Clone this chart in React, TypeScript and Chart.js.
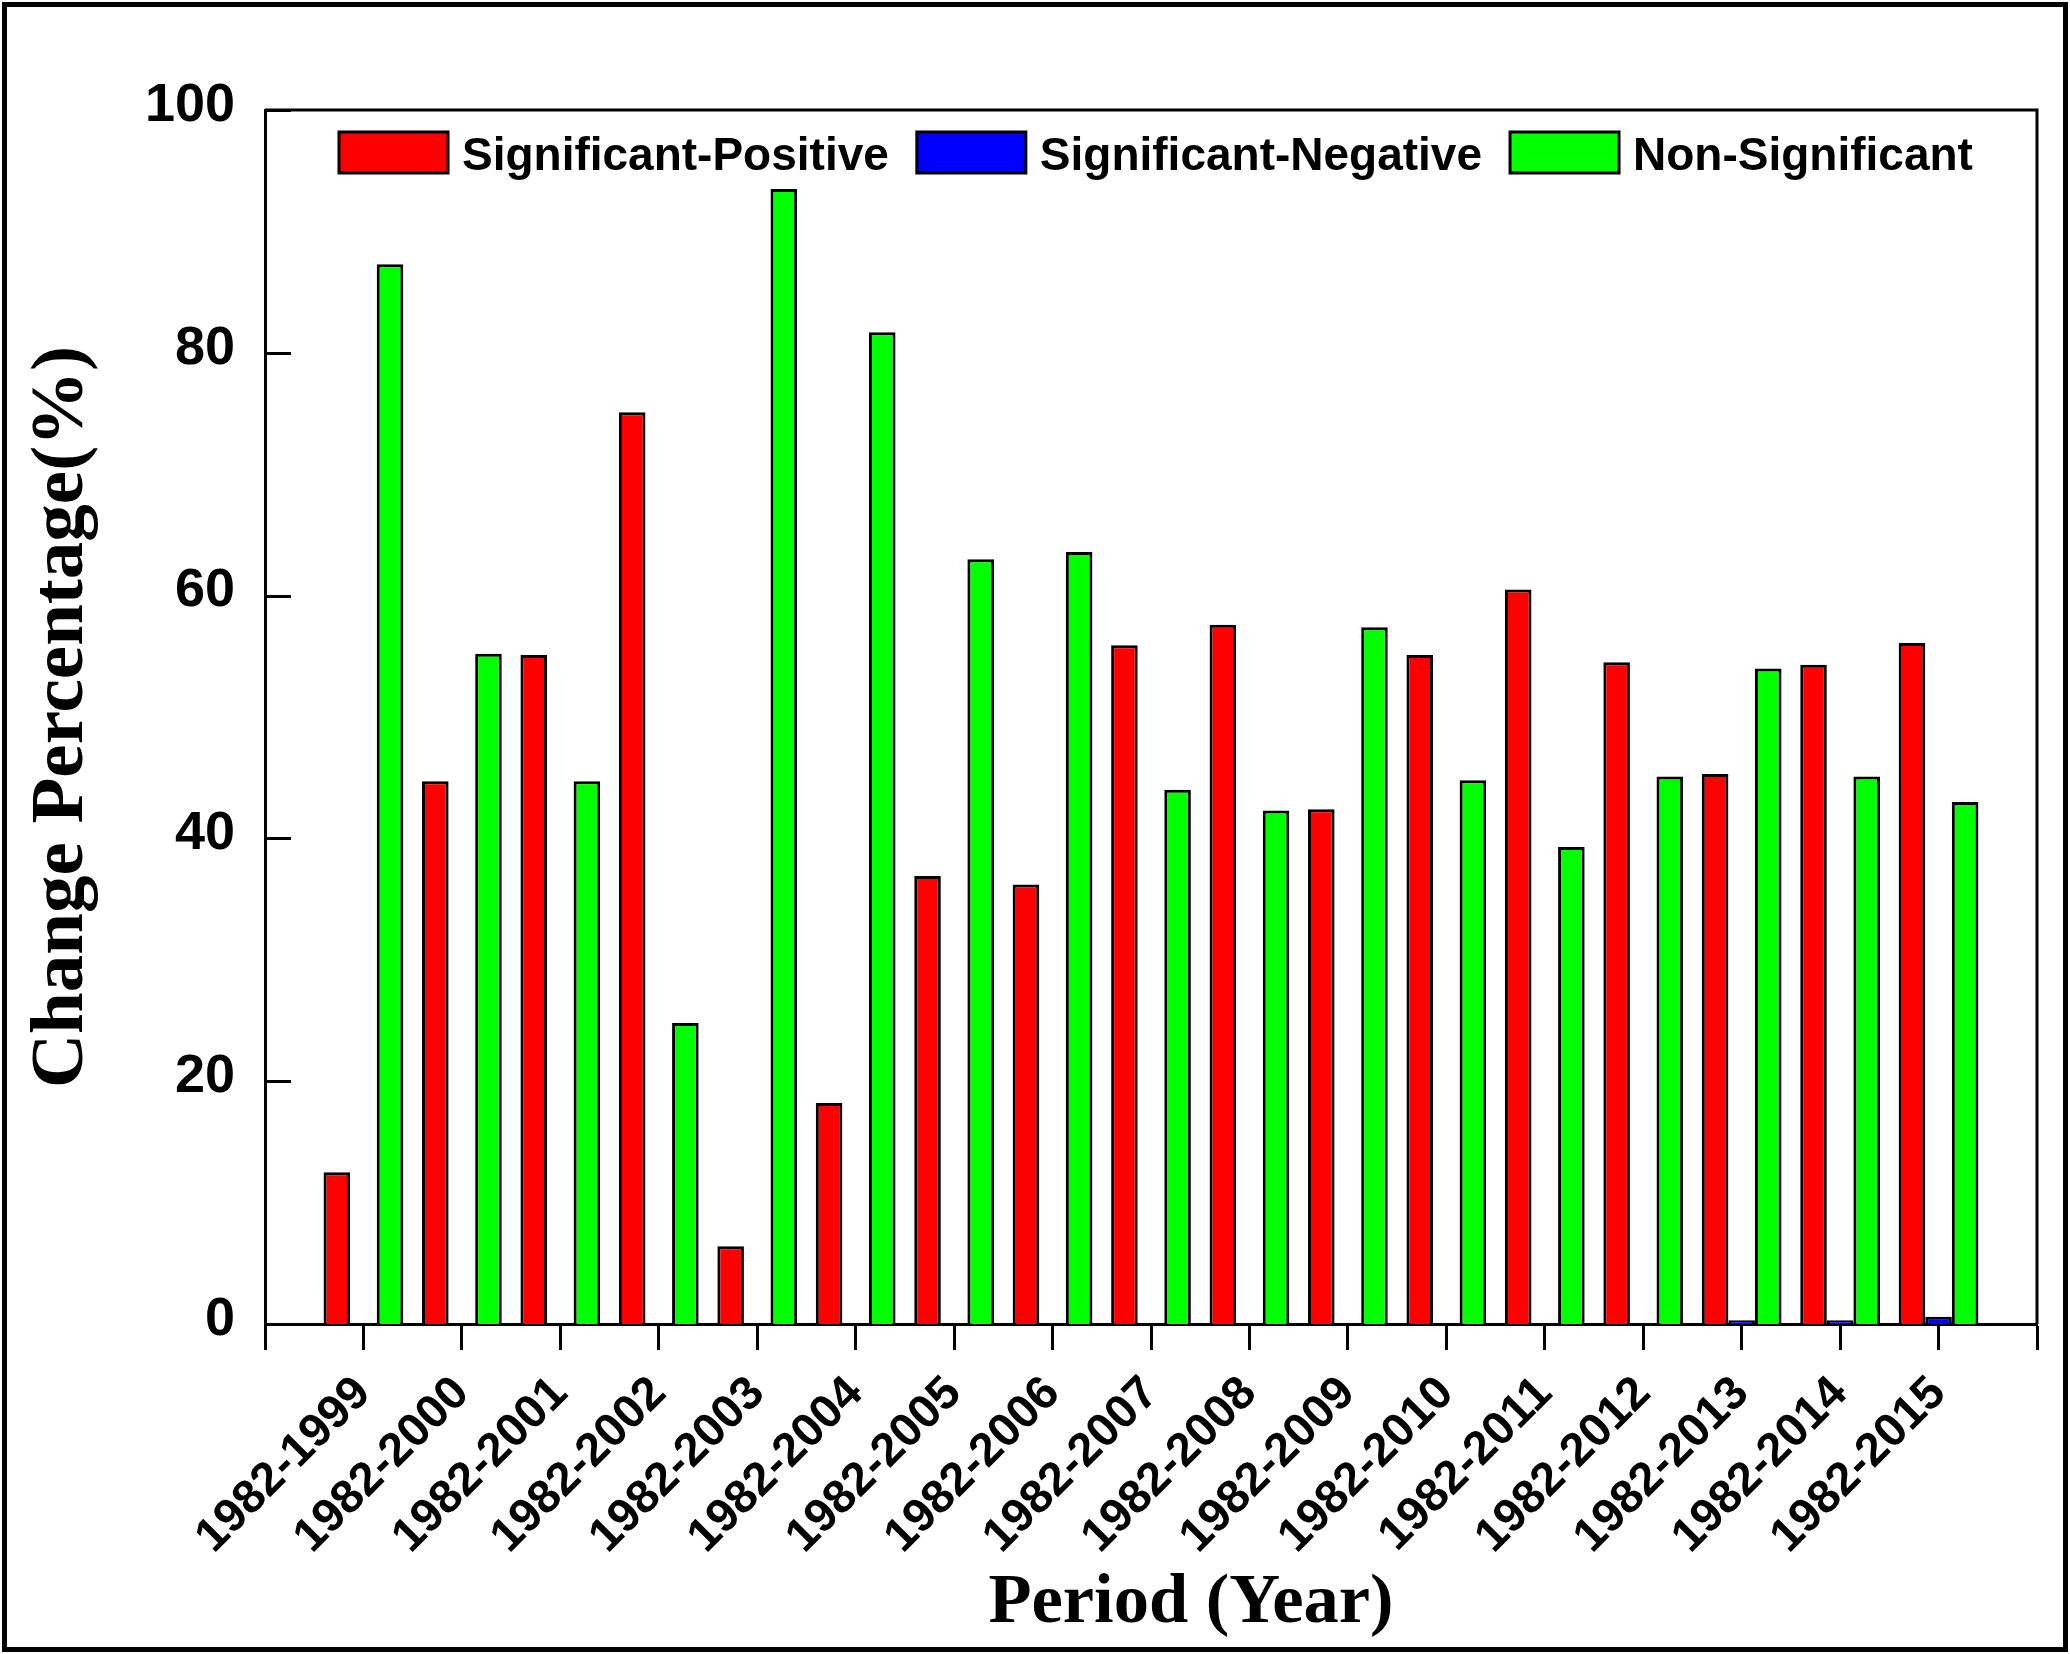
import React, { useEffect, useRef } from "react";
import Chart from "chart.js/auto";

const categories = [
  "1982-1999", "1982-2000", "1982-2001", "1982-2002", "1982-2003", "1982-2004",
  "1982-2005", "1982-2006", "1982-2007", "1982-2008", "1982-2009", "1982-2010",
  "1982-2011", "1982-2012", "1982-2013", "1982-2014", "1982-2015",
];
const sigPositive = [12.5, 44.7, 55.1, 75.1, 6.4, 18.2, 36.9, 36.2, 55.9, 57.6, 42.4, 55.1, 60.5, 54.5, 45.3, 54.3, 56.1];
const sigNegative = [0, 0, 0, 0, 0, 0, 0, 0, 0, 0, 0, 0, 0, 0, 0.3, 0.3, 0.6];
const nonSignificant = [87.3, 55.2, 44.7, 24.8, 93.5, 81.7, 63.0, 63.6, 44.0, 42.3, 57.4, 44.8, 39.3, 45.1, 54.0, 45.1, 43.0];
const yTicks = [0, 20, 40, 60, 80, 100];

const SANS = "'Liberation Sans', Arial, sans-serif";
const SERIF = "'Liberation Serif', 'Times New Roman', serif";

// outer frame, top/right edges of the plot box, inward y ticks, legend and x title
const decorPlugin = {
  id: "decor",
  beforeDraw(chart: any) {
    const { ctx, width, height } = chart;
    ctx.save();
    ctx.fillStyle = "#fff";
    ctx.fillRect(0, 0, width, height);
    ctx.strokeStyle = "#000";
    ctx.lineWidth = 5;
    ctx.strokeRect(4.5, 4.5, width - 9, height - 9);
    ctx.restore();
  },
  afterDatasetsDraw(chart: any) {
    const { ctx, chartArea: a, scales } = chart;
    ctx.save();
    ctx.strokeStyle = "#000";
    ctx.lineWidth = 3;
    ctx.beginPath();
    ctx.moveTo(a.left, a.top);
    ctx.lineTo(a.right, a.top);
    ctx.lineTo(a.right, a.bottom);
    scales.y.ticks.forEach((t: any) => {
      const py = Math.round(scales.y.getPixelForValue(t.value)) + 0.5;
      ctx.moveTo(a.left, py);
      ctx.lineTo(a.left + 26, py);
    });
    ctx.stroke();

    // legend inside the plot
    ctx.font = `bold 46px ${SANS}`;
    ctx.textBaseline = "alphabetic";
    ctx.textAlign = "left";
    let x = a.left + 74;
    const top = a.top + 22;
    chart.data.datasets.forEach((ds: any) => {
      ctx.fillStyle = ds.backgroundColor;
      ctx.fillRect(x, top, 109, 41);
      ctx.lineWidth = 3;
      ctx.strokeRect(x, top, 109, 41);
      ctx.fillStyle = "#000";
      ctx.fillText(ds.label, x + 123, top + 38);
      x += 123 + ctx.measureText(ds.label).width + 28;
    });

    // x axis title
    ctx.font = `bold 70.5px ${SERIF}`;
    ctx.textAlign = "center";
    ctx.fillText("Period (Year)", (a.left + a.right) / 2 + 40, chart.height - 32);
    ctx.restore();
  },
};

const App = () => {
  const chartRef = useRef<HTMLCanvasElement>(null);

  useEffect(() => {
    const ctx = chartRef.current?.getContext("2d");
    // empty slot at each end so the axis runs one category past the bars
    const labels = ["", ...categories, ""];
    const pad = (arr: number[]) => [null, ...arr, null];

    const chart = new Chart(ctx!, {
      type: "bar",
      data: {
        labels,
        datasets: [
          { label: "Significant-Positive", data: pad(sigPositive), backgroundColor: "#ff0000" },
          { label: "Significant-Negative", data: pad(sigNegative), backgroundColor: "#0000ff" },
          { label: "Non-Significant", data: pad(nonSignificant), backgroundColor: "#00ff00" },
        ],
      },
      options: {
        animation: false,
        responsive: false,
        devicePixelRatio: 1,
        layout: { padding: { top: 110, right: 33, left: 0, bottom: 0 } },
        datasets: {
          bar: { categoryPercentage: 0.81, barPercentage: 1, borderColor: "#000", borderWidth: 3 },
        },
        plugins: { legend: { display: false }, tooltip: { enabled: false } },
        scales: {
          x: {
            offset: false,
            grid: {
              display: true,
              offset: false,
              drawOnChartArea: false,
              drawTicks: true,
              tickLength: 26,
              tickWidth: 3,
              tickColor: "#000",
            },
            border: { display: true, color: "#000", width: 3 },
            ticks: {
              autoSkip: false,
              minRotation: 45,
              maxRotation: 45,
              padding: 16,
              color: "#000",
              font: { family: SANS, size: 47, weight: "bold" },
            },
            afterFit: (s: any) => {
              s.height = 330;
              s.paddingLeft = 0;
              s.paddingRight = 0;
            },
          },
          y: {
            min: 0,
            max: 100,
            afterBuildTicks: (s: any) => {
              s.ticks = yTicks.map((v) => ({ value: v }));
            },
            grid: { display: false, drawTicks: false },
            border: { display: true, color: "#000", width: 3 },
            ticks: {
              padding: 30,
              labelOffset: -4,
              color: "#000",
              font: { family: SANS, size: 54, weight: "bold" },
            },
            title: {
              display: true,
              text: "Change Percentage(%)",
              color: "#000",
              font: { family: SERIF, size: 75, weight: "bold" },
              padding: { top: 18, bottom: 0 },
            },
            afterFit: (s: any) => {
              s.width = 265;
              s.paddingTop = 0;
              s.paddingBottom = 0;
            },
          },
        },
      },
      plugins: [decorPlugin],
    });

    return () => {
      chart.destroy();
    };
  }, []);

  return (
    <div style={{ position: "fixed", left: 0, top: 0, width: 2070, height: 1654, background: "#fff" }}>
      <canvas ref={chartRef} width={2070} height={1654} />
    </div>
  );
};

export default App;
